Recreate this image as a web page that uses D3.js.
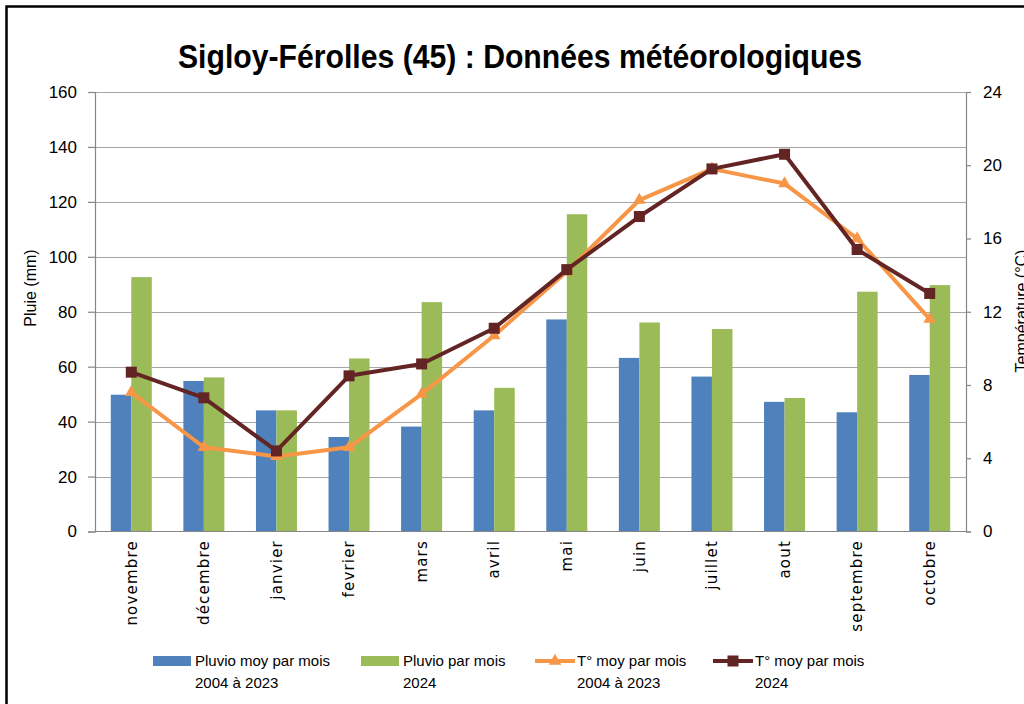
<!DOCTYPE html>
<html>
<head>
<meta charset="utf-8">
<script src="https://cdn.jsdelivr.net/npm/d3@7"></script>
<style>
	body { margin: 0; background: #fff; }
	svg { display: block; }
	.tick text { font-family: "Liberation Sans", Arial, sans-serif; font-size: 17px; fill: #000; }
	.monthLabel { font-family: "DejaVu Sans", Verdana, sans-serif; font-size: 15px; letter-spacing: 1.2px; fill: #000; }
	.legend text { font-family: "Liberation Sans", Arial, sans-serif; font-size: 15px; fill: #000; }
	.axisTitle { font-family: "Liberation Sans", Arial, sans-serif; font-size: 16px; fill: #000; }
</style>
</head>
<body>
<script>
(function(){

//months shown on the x axis
var months = ["novembre","décembre","janvier","fevrier","mars","avril","mai","juin","juillet","aout","septembre","octobre"];

//rainfall (mm)
var pluvioMoy = [49.8, 54.8, 44.1, 34.4, 38.2, 44.1, 77.2, 63.2, 56.4, 47.2, 43.4, 57.0];
var pluvio2024 = [92.6, 56.1, 44.1, 63.0, 83.5, 52.3, 115.5, 76.1, 73.7, 48.6, 87.3, 89.7];

//temperature (°C)
var tempMoy = [7.6, 4.6, 4.1, 4.6, 7.5, 10.7, 14.2, 18.1, 19.8, 19.0, 16.0, 11.6];
var temp2024 = [8.7, 7.3, 4.4, 8.5, 9.15, 11.1, 14.3, 17.2, 19.8, 20.6, 15.4, 13.0];

//axis ticks
var rainTicks = [0, 20, 40, 60, 80, 100, 120, 140, 160];
var tempTicks = [0, 4, 8, 12, 16, 20, 24];

var seriesNames = ["Pluvio moy par mois|2004 à 2023", "Pluvio par mois|2024", "T° moy par mois|2004 à 2023", "T° moy par mois|2024"];

var blue = "#4f81bd", green = "#9bbb59", orange = "#f79646", brown = "#632523";

var width = 1024, height = 704;
var left = 95, right = 966, top = 92, bottom = 531.5;

var svg = d3.select("body")
	.append("svg")
	.attr("width", width)
	.attr("height", height);

//outer frame (only left and top edges are visible)
svg.append("rect")
	.attr("x", 6.5).attr("y", 6.5)
	.attr("width", 1040).attr("height", 720)
	.attr("fill", "none")
	.attr("stroke", "#000")
	.attr("stroke-width", 2.5);

//title
svg.append("text")
	.attr("x", 520)
	.attr("y", 68)
	.attr("text-anchor", "middle")
	.attr("textLength", 684)
	.attr("lengthAdjust", "spacingAndGlyphs")
	.style("font-family", "'Liberation Sans Narrow', 'Liberation Sans', Arial, sans-serif")
	.style("font-weight", "bold")
	.style("font-size", "33px")
	.text("Sigloy-Férolles (45) : Données météorologiques");

//scales
var x0 = d3.scaleBand()
	.domain(months)
	.range([left, right]);

var x1 = d3.scaleBand()
	.domain(["moy", "2024"])
	.range([0, x0.bandwidth()])
	.paddingOuter(0.77);

var yRain = d3.scaleLinear()
	.domain([0, 160])
	.range([bottom, top]);

var yTemp = d3.scaleLinear()
	.domain([0, 24])
	.range([bottom, top]);

//horizontal gridlines
svg.append("g")
	.selectAll("line")
	.data(rainTicks.slice(1))
	.enter()
	.append("line")
	.attr("x1", left).attr("x2", right)
	.attr("y1", function(d){ return Math.round(yRain(d)) + 0.5; })
	.attr("y2", function(d){ return Math.round(yRain(d)) + 0.5; })
	.attr("stroke", "#a6a6a6")
	.attr("stroke-width", 1.2);

//left axis
var leftAxis = svg.append("g")
	.attr("transform", "translate(" + left + ",0)")
	.call(d3.axisLeft(yRain).tickValues(rainTicks).tickSize(7).tickPadding(11));

//right axis
var rightAxis = svg.append("g")
	.attr("transform", "translate(" + right + ",0)")
	.call(d3.axisRight(yTemp).tickValues(tempTicks).tickSize(5).tickPadding(12));

[leftAxis, rightAxis].forEach(function(ax){
	ax.select(".domain").attr("stroke", "#868686").attr("stroke-width", 1.2);
	ax.selectAll(".tick line").attr("stroke", "#868686").attr("stroke-width", 1.2);
});

//bars
var barData = [pluvioMoy, pluvio2024];
var barKeys = ["moy", "2024"];
var barColors = [blue, green];

barData.forEach(function(values, s){
	svg.append("g")
		.selectAll("rect")
		.data(values)
		.enter()
		.append("rect")
		.attr("x", function(d, i){ return x0(months[i]) + x1(barKeys[s]); })
		.attr("width", x1.bandwidth())
		.attr("y", function(d){ return yRain(d); })
		.attr("height", function(d){ return bottom - yRain(d); })
		.attr("fill", barColors[s]);
});

//bottom axis line
svg.append("line")
	.attr("x1", left).attr("x2", right)
	.attr("y1", bottom).attr("y2", bottom)
	.attr("stroke", "#868686")
	.attr("stroke-width", 1.2);

//temperature lines
var cx = function(d, i){ return x0(months[i]) + x0.bandwidth() / 2; };
var line = d3.line()
	.x(cx)
	.y(function(d){ return yTemp(d); });

var triangle = d3.symbol().type(d3.symbolTriangle).size(70);

svg.append("path")
	.datum(tempMoy)
	.attr("d", line)
	.attr("fill", "none")
	.attr("stroke", orange)
	.attr("stroke-width", 4)
	.attr("stroke-linejoin", "round");

svg.append("g")
	.selectAll("path")
	.data(tempMoy)
	.enter()
	.append("path")
	.attr("d", triangle)
	.attr("transform", function(d, i){ return "translate(" + cx(d, i) + "," + yTemp(d) + ")"; })
	.attr("fill", orange);

svg.append("path")
	.datum(temp2024)
	.attr("d", line)
	.attr("fill", "none")
	.attr("stroke", brown)
	.attr("stroke-width", 4)
	.attr("stroke-linejoin", "round");

svg.append("g")
	.selectAll("rect")
	.data(temp2024)
	.enter()
	.append("rect")
	.attr("x", function(d, i){ return cx(d, i) - 5.5; })
	.attr("y", function(d){ return yTemp(d) - 5.5; })
	.attr("width", 11)
	.attr("height", 11)
	.attr("fill", brown);

//month labels, rotated
svg.append("g")
	.selectAll("text")
	.data(months)
	.enter()
	.append("text")
	.attr("class", "monthLabel")
	.attr("transform", function(d){ return "translate(" + (x0(d) + x0.bandwidth() / 2) + ",540) rotate(-90)"; })
	.attr("text-anchor", "end")
	.attr("dy", "0.35em")
	.text(function(d){ return d; });

//axis titles
svg.append("text")
	.attr("class", "axisTitle")
	.attr("transform", "translate(36,288) rotate(-90)")
	.attr("text-anchor", "middle")
	.text("Pluie (mm)");

//right title sits against the page edge, as in the original
svg.append("text")
	.attr("class", "axisTitle")
	.attr("transform", "translate(1027,311) rotate(-90)")
	.attr("text-anchor", "middle")
	.text("Température (°C)");

//legend
var legendX = [153, 361, 535, 713];
var legend = svg.append("g").attr("class", "legend");

seriesNames.forEach(function(name, i){
	var g = legend.append("g").attr("transform", "translate(" + legendX[i] + ",0)");
	if (i < 2){
		g.append("rect")
			.attr("x", 0).attr("y", 656)
			.attr("width", 38).attr("height", 10)
			.attr("fill", barColors[i]);
	} else {
		var col = i == 2 ? orange : brown;
		g.append("line")
			.attr("x1", 0).attr("x2", 40)
			.attr("y1", 661).attr("y2", 661)
			.attr("stroke", col)
			.attr("stroke-width", 4);
		if (i == 2){
			g.append("path").attr("d", triangle).attr("transform", "translate(20,661)").attr("fill", col);
		} else {
			g.append("rect").attr("x", 14.5).attr("y", 655.5).attr("width", 11).attr("height", 11).attr("fill", col);
		}
	}
	var parts = name.split("|");
	g.append("text").attr("x", 42).attr("y", 666).text(parts[0]);
	g.append("text").attr("x", 42).attr("y", 688).text(parts[1]);
});

})();
</script>
</body>
</html>
